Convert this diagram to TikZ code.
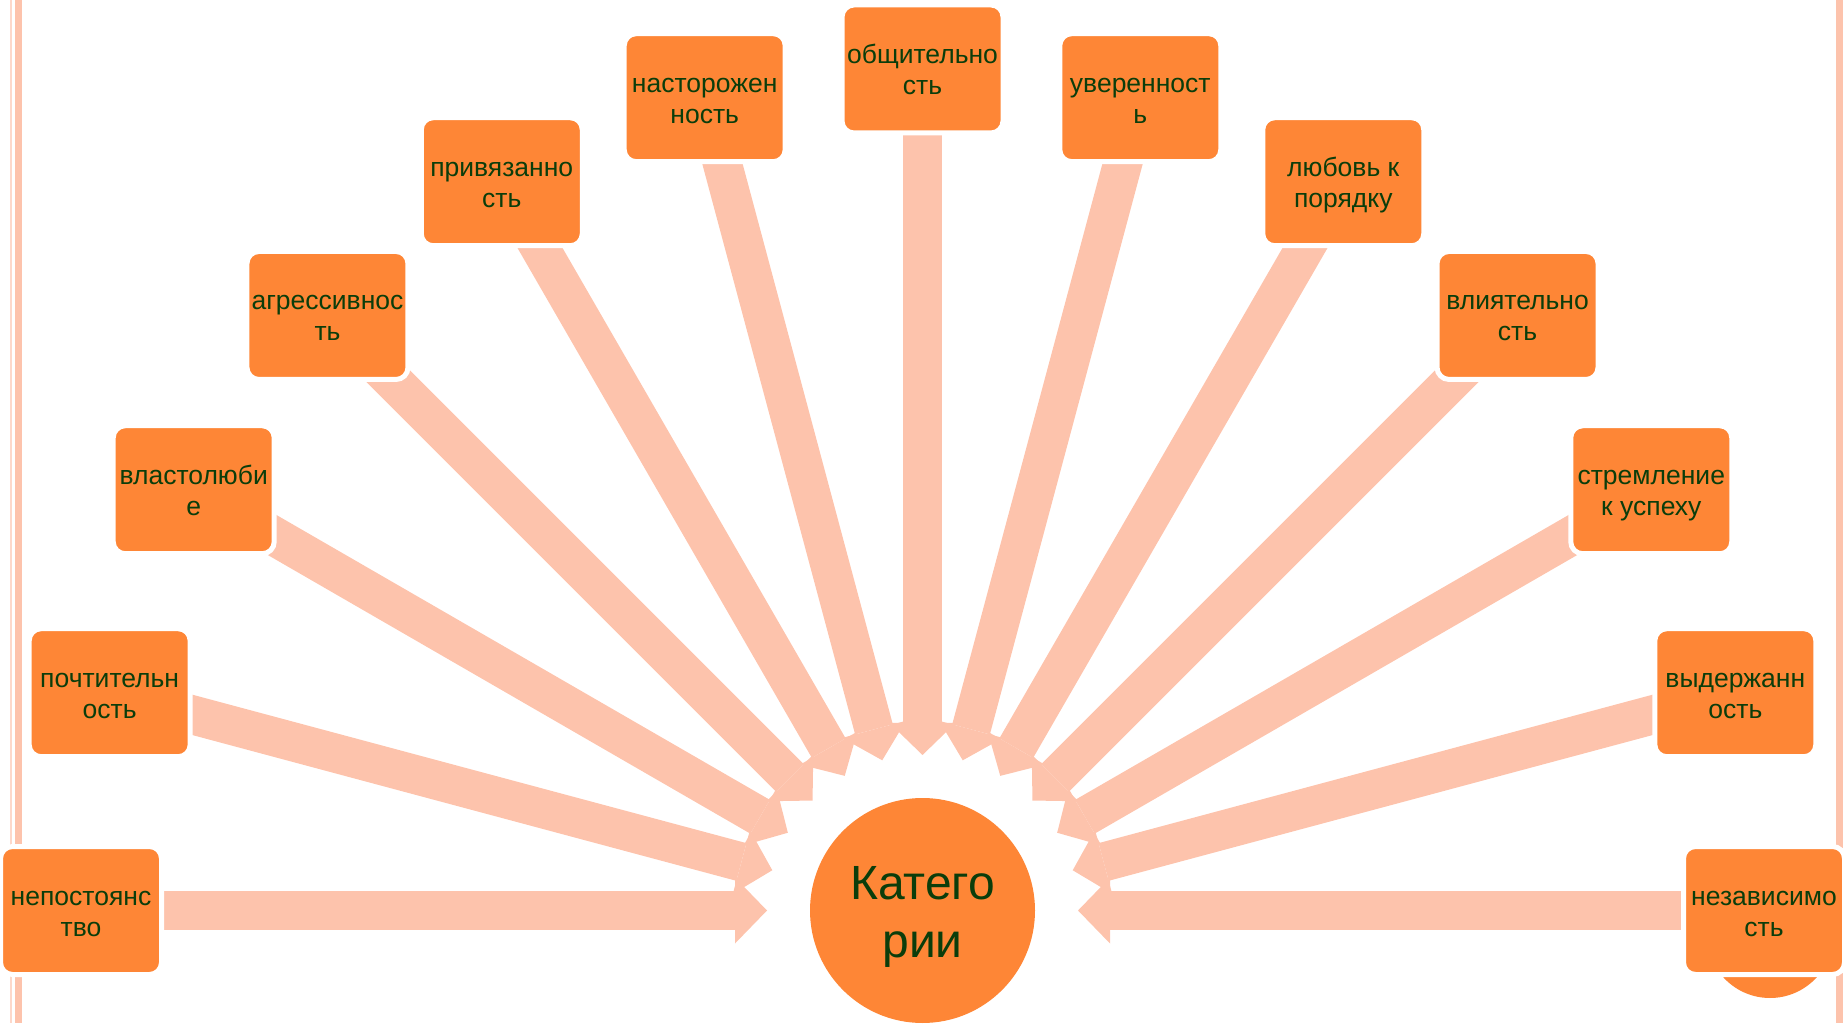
\documentclass[tikz,border=0pt]{standalone}
\usepackage{fontspec}
\setmainfont{Liberation Sans}
\usetikzlibrary{arrows.meta,backgrounds}
\definecolor{boxor}{HTML}{FE8636}
\definecolor{arrpk}{HTML}{FDC3AC}
\definecolor{linepk}{HTML}{FDD8CA}
\definecolor{txtgr}{HTML}{0B3D0B}
\newcommand{\tstr}{\rule{0pt}{26pt}}
\newcommand{\bstr}{\rule[-6pt]{0pt}{6pt}}
\newcommand{\htstr}{\rule{0pt}{45pt}}
\newcommand{\hbstr}{\rule[-10pt]{0pt}{10pt}}
\begin{document}
\begin{tikzpicture}[x=1pt,y=1pt,
  catbox/.style={draw=white, line width=5pt, fill=boxor, rounded corners=12pt,
    minimum width=161pt, minimum height=128pt, inner sep=0pt, align=center,
    text=txtgr, font=\fontsize{26.5}{31}\selectfont},
  hubnode/.style={circle, fill=boxor, minimum size=225pt, inner sep=0pt, align=center,
    text=txtgr, font=\fontsize{48}{58}\selectfont},
  radarrow/.style={draw=arrpk, line width=39pt,
    -{Triangle[length=32pt,width=66pt,line width=0pt]}}]
\useasboundingbox (0,0) rectangle (1843,1023);
\coordinate (C) at (922.5,112.5);
\node[hubnode] (hub) at (C) {\htstr Катего\\рии\hbstr};
\node[catbox] (b1)  at ([shift={(180:841.5)}]C) {\tstr непостоянс\\тво\bstr};
\node[catbox] (b2)  at ([shift={(165:841.5)}]C) {\tstr почтительн\\ость\bstr};
\node[catbox] (b3)  at ([shift={(150:841.5)}]C) {\tstr властолюби\\е\bstr};
\node[catbox] (b4)  at ([shift={(135:841.5)}]C) {\tstr агрессивнос\\ть\bstr};
\node[catbox] (b5)  at ([shift={(120:841.5)}]C) {\tstr привязанно\\сть\bstr};
\node[catbox] (b6)  at ([shift={(105:841.5)}]C) {\tstr насторожен\\ность\bstr};
\node[catbox] (b7)  at ([shift={(90:841.5)}]C)  {\tstr общительно\\сть\bstr};
\node[catbox] (b8)  at ([shift={(75:841.5)}]C)  {\tstr уверенност\\ь\bstr};
\node[catbox] (b9)  at ([shift={(60:841.5)}]C)  {\tstr любовь к\\порядку\bstr};
\node[catbox] (b10) at ([shift={(45:841.5)}]C)  {\tstr влиятельно\\сть\bstr};
\node[catbox] (b11) at ([shift={(30:841.5)}]C)  {\tstr стремление\\к успеху\bstr};
\node[catbox] (b12) at ([shift={(15:841.5)}]C)  {\tstr выдержанн\\ость\bstr};
\node[catbox] (b13) at ([shift={(0:841.5)}]C)   {\tstr независимо\\сть\bstr};
\foreach \i/\a in {1/180,2/165,3/150,4/135,5/120,6/105,7/90,8/75,9/60,10/45,11/30,12/15,13/0}
  \coordinate (t\i) at ([shift={(\a:155.5)}]C);
\begin{pgfonlayer}{background}
  \fill[linepk] (10,0) rectangle (12,1023);
  \fill[arrpk] (15,0) rectangle (22,1023);
  \fill[arrpk] (1836,0) rectangle (1843,1023);
  \fill[boxor] (1770,88) circle (63);
  \foreach \i in {1,...,13}
    \draw[radarrow] (b\i.center) -- (t\i);
\end{pgfonlayer}
\end{tikzpicture}
\end{document}
